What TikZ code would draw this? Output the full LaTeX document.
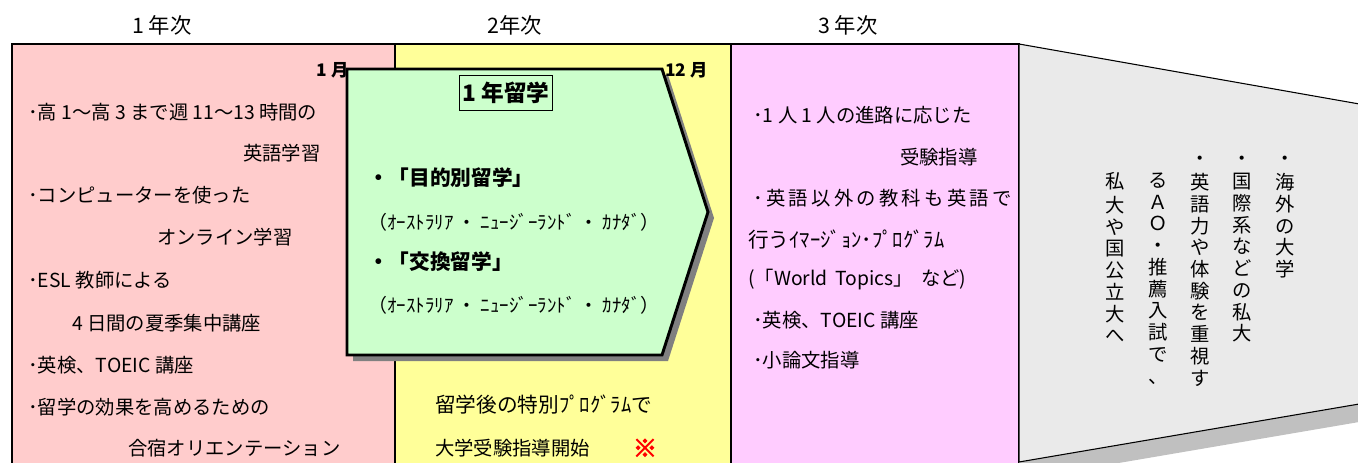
\documentclass[tikz,border=0pt]{standalone}
\usepackage{fontspec}
\setmainfont{Noto Sans CJK JP}
\definecolor{nenpink}{HTML}{FFCCCC}
\definecolor{nenyellow}{HTML}{FFFF99}
\definecolor{nenmagenta}{HTML}{FFCCFF}
\definecolor{nengreen}{HTML}{CCFFCC}
\definecolor{nengrey}{HTML}{EAEAEA}
\definecolor{nenshade}{HTML}{C0C0C0}
\definecolor{nendark}{HTML}{808080}
\tikzset{
  column/.style={draw=black, line width=0.8pt},
  yearhead/.style={inner sep=0pt, font=\fontsize{16}{18}\selectfont},
  bodytext/.style={anchor=west, inner sep=0pt, font=\fontsize{14.5}{18}\selectfont},
  widetext/.style={anchor=west, inner sep=0pt, font=\fontsize{15.5}{18}\selectfont},
  boldtext/.style={anchor=west, inner sep=0pt, font=\fontsize{15.5}{18}\selectfont\bfseries},
  kanatext/.style={anchor=west, inner sep=0pt, font=\fontsize{14.2}{16}\selectfont},
  monthtext/.style={inner sep=0pt, font=\fontsize{13}{15}\selectfont\bfseries},
  tatetext/.style={anchor=north, inner sep=0pt, align=center, font=\fontsize{14.5}{16.3}\selectfont}
}

\begin{document}
\begin{tikzpicture}[x=0.75pt, y=-0.75pt]
  \useasboundingbox
    (0,0)
    rectangle
    (1358,463);
  \clip
    (0,0)
    rectangle
    (1358,463);
  \filldraw[column, fill=nenpink]
    (12,44)
    rectangle
    (395,475);
  \filldraw[column, fill=nenyellow]
    (395,44)
    rectangle
    (731,475);
  \filldraw[column, fill=nenmagenta]
    (731,44)
    rectangle
    (1019,475);
  \fill[nenshade]
    (1019,62)
    --
    (1365,123)
    --
    (1365,421)
    --
    (1019,480)
    --
    cycle;
  \filldraw[column, fill=nengrey]
    (1019,44)
    --
    (1365,105)
    --
    (1365,403)
    --
    (1019,462)
    --
    cycle;
  \fill[nendark]
    (353,75)
    --
    (668,75)
    --
    (714,218)
    --
    (668,361)
    --
    (353,361)
    --
    cycle;
  \filldraw[fill=nengreen, line width=2.2pt]
    (347,69)
    --
    (662,69)
    --
    (708,212)
    --
    (662,355)
    --
    (347,355)
    --
    cycle;
  \node[yearhead] (head1)
    at (162,25)
    {1 年次};
  \node[yearhead] (head2)
    at (515,25)
    {2年次};
  \node[yearhead] (head3)
    at (848,25)
    {3 年次};
  \node[monthtext, anchor=east] (jan)
    at (349,70)
    {1 月};
  \node[monthtext, anchor=west] (dec)
    at (665,70)
    {12 月};
  \node[draw, line width=1.2pt, inner sep=0pt, minimum width=69.75pt, minimum height=26.25pt,
        font=\fontsize{17}{20}\selectfont\bfseries] (title)
    at (506,93)
    {1 年留学};
  \node[bodytext] (left1)
    at (28,112)
    {･高 1～高 3 まで週 11～13 時間の};
  \node[bodytext] (left2)
    at (243,153)
    {英語学習};
  \node[bodytext] (left3)
    at (28,195)
    {･コンピューターを使った};
  \node[bodytext] (left4)
    at (157,237)
    {オンライン学習};
  \node[bodytext] (left5)
    at (28,280)
    {･ESL 教師による};
  \node[bodytext] (left6)
    at (72,323)
    {4 日間の夏季集中講座};
  \node[bodytext] (left7)
    at (28,365)
    {･英検、TOEIC 講座};
  \node[bodytext] (left8)
    at (28,407)
    {･留学の効果を高めるための};
  \node[bodytext] (left9)
    at (128,448)
    {合宿オリエンテーション};
  \node[boldtext] (study1)
    at (368,178)
    {・「目的別留学」};
  \node[kanatext] (country1)
    at (368,222)
    {（ｵｰｽﾄﾗﾘｱ ・ ﾆｭｰｼﾞｰﾗﾝﾄﾞ ・ ｶﾅﾀﾞ）};
  \node[boldtext] (study2)
    at (368,262)
    {・「交換留学」};
  \node[kanatext] (country2)
    at (368,305)
    {（ｵｰｽﾄﾗﾘｱ ・ ﾆｭｰｼﾞｰﾗﾝﾄﾞ ・ ｶﾅﾀﾞ）};
  \node[widetext] (after1)
    at (435,405)
    {留学後の特別ﾌﾟﾛｸﾞﾗﾑで};
  \node[bodytext] (after2)
    at (435,448)
    {大学受験指導開始};
  \node[inner sep=0pt, text=red,
        font=\fontsize{18}{18}\selectfont\bfseries\addfontfeatures{FakeBold=4}] (mark)
    at (645,448)
    {※};
  \node[bodytext] (third1)
    at (753,115)
    {･1 人 1 人の進路に応じた};
  \node[bodytext] (third2)
    at (900,157)
    {受験指導};
  \node[bodytext, font=\fontsize{14.5}{18}\selectfont\addfontfeatures{LetterSpace=17}] (third3)
    at (753,198)
    {･英語以外の教科も英語で};
  \node[widetext] (third4)
    at (748,240)
    {行うｲﾏｰｼﾞｮﾝ･ﾌﾟﾛｸﾞﾗﾑ};
  \node[bodytext] (third5)
    at (748,280)
    {(「World\hspace{6pt}Topics」\hspace{6pt}など)};
  \node[bodytext] (third6)
    at (753,320)
    {･英検、TOEIC 講座};
  \node[bodytext] (third7)
    at (753,360)
    {･小論文指導};
  \node[tatetext] (goal1)
    at (1285,150)
    {\strut・\\海\\外\\の\\大\\学};
  \node[tatetext] (goal2)
    at (1242,150)
    {\strut・\\国\\際\\系\\な\\ど\\の\\私\\大};
  \node[tatetext] (goal3)
    at (1200,150)
    {\strut・\\英\\語\\力\\や\\体\\験\\を\\重\\視\\す};
  \node[tatetext] (goal4)
    at (1158,172)
    {\strut る\\Ａ\\Ｏ\\・\\推\\薦\\入\\試\\で\\、};
  \node[tatetext] (goal5)
    at (1115,172)
    {\strut 私\\大\\や\\国\\公\\立\\大\\へ};
\end{tikzpicture}
\end{document}
